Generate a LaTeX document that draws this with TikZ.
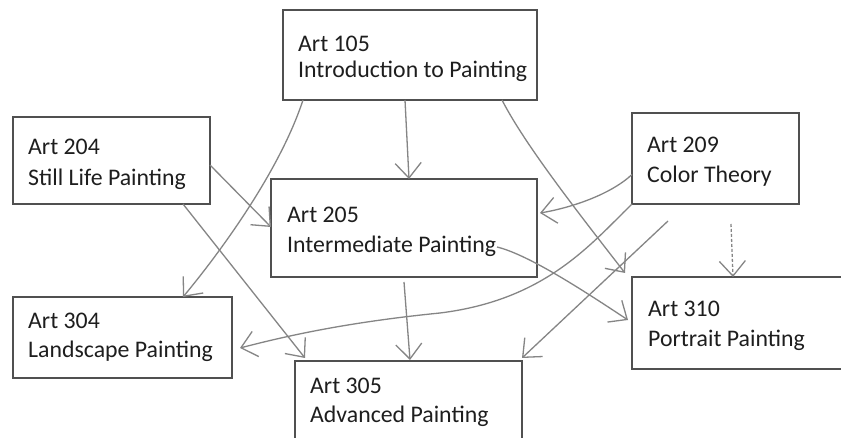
\documentclass[tikz,border=0pt]{standalone}
\usepackage{fontspec}
\setmainfont{Carlito}
\usetikzlibrary{arrows.meta}
\definecolor{boxline}{HTML}{505050}
\definecolor{conn}{HTML}{858585}
\definecolor{txt}{HTML}{1E1E1E}
\tikzset{
  course/.style={draw=boxline, line width=1.5pt, fill=white, inner sep=0pt, outer sep=0pt, anchor=north west},
  lbl/.style={anchor=base west, inner sep=0pt, text=txt, font=\fontsize{23.8}{28}\selectfont},
  link/.style={draw=conn, line width=1.3pt, -{Straight Barb[length=15pt,width=26pt,line width=1.3pt]}},
}
\begin{document}
\begin{tikzpicture}[x=1pt,y=-1pt]
\path[use as bounding box, clip] (0,0) rectangle (841,438);
\fill[white] (0,0) rectangle (841,438);
% boxes
\node[course, minimum width=254pt, minimum height=90pt] (a105) at (283,10) {};
\node[course, minimum width=197pt, minimum height=87pt] (a204) at (13,117) {};
\node[course, minimum width=266pt, minimum height=98pt] (a205) at (271,179) {};
\node[course, minimum width=167pt, minimum height=91pt] (a209) at (632,113) {};
\node[course, minimum width=219pt, minimum height=81pt] (a304) at (13,297) {};
\node[course, minimum width=227pt, minimum height=90pt] (a305) at (295,361) {};
\node[course, minimum width=213pt, minimum height=92pt] (a310) at (632,277) {};
% labels
\node[lbl] (t105a) at (298,52) {Art 105};
\node[lbl] (t105b) at (298,78) {Introduction to Painting};
\node[lbl] (t204a) at (28,155) {Art 204};
\node[lbl] (t204b) at (28,186) {Still Life Painting};
\node[lbl] (t205a) at (287,223) {Art 205};
\node[lbl] (t205b) at (287,253) {Intermediate Painting};
\node[lbl] (t209a) at (647,153) {Art 209};
\node[lbl] (t209b) at (647,183) {Color Theory};
\node[lbl] (t304a) at (28,329) {Art 304};
\node[lbl] (t304b) at (28,358) {Landscape Painting};
\node[lbl] (t305a) at (310,393) {Art 305};
\node[lbl] (t305b) at (310,422) {Advanced Painting};
\node[lbl] (t310a) at (648,317) {Art 310};
\node[lbl] (t310b) at (648,347) {Portrait Painting};
% free start points
\coordinate (s8) at (668,221);
\coordinate (s9) at (731,224);
% connectors
\draw[link] ([xshift=20pt]a105.south west) .. controls (280,170) and (222,250) .. ([xshift=-49pt]a304.north east);
\draw[link] ([xshift=122pt]a105.south west) -- ([xshift=138pt]a205.north west);
\draw[link] ([xshift=219pt]a105.south west) .. controls (525,145) and (580,215) .. ([xshift=-7pt,yshift=4pt]a310.north west);
\draw[link] ([yshift=-4.5pt]a204.east) -- ([yshift=1pt]a205.west);
\draw[link] ([xshift=170pt]a204.south west) -- ([xshift=10pt,yshift=3pt]a305.north west);
\draw[link] ([yshift=-16pt]a209.west) .. controls (610,195) and (570,208) .. ([xshift=3pt,yshift=15pt]a205.east);
\draw[link] (a209.south west) .. controls (590,245) and (545,300) .. (440,313) .. controls (350,322) and (290,335) .. ([xshift=8pt,yshift=-10.5pt]a304.east);
\draw[link] (s8) -- ([yshift=3pt]a305.north east);
\draw[link, densely dashed] (s9) -- ([xshift=101pt]a310.north west);
\draw[link] ([xshift=-40pt,yshift=-19pt]a205.east) .. controls (530,255) and (590,295) .. ([xshift=-4pt,yshift=3pt]a310.west);
\draw[link] ([yshift=-5pt]a205.south) -- ([xshift=115pt,yshift=1pt]a305.north west);
\end{tikzpicture}
\end{document}
